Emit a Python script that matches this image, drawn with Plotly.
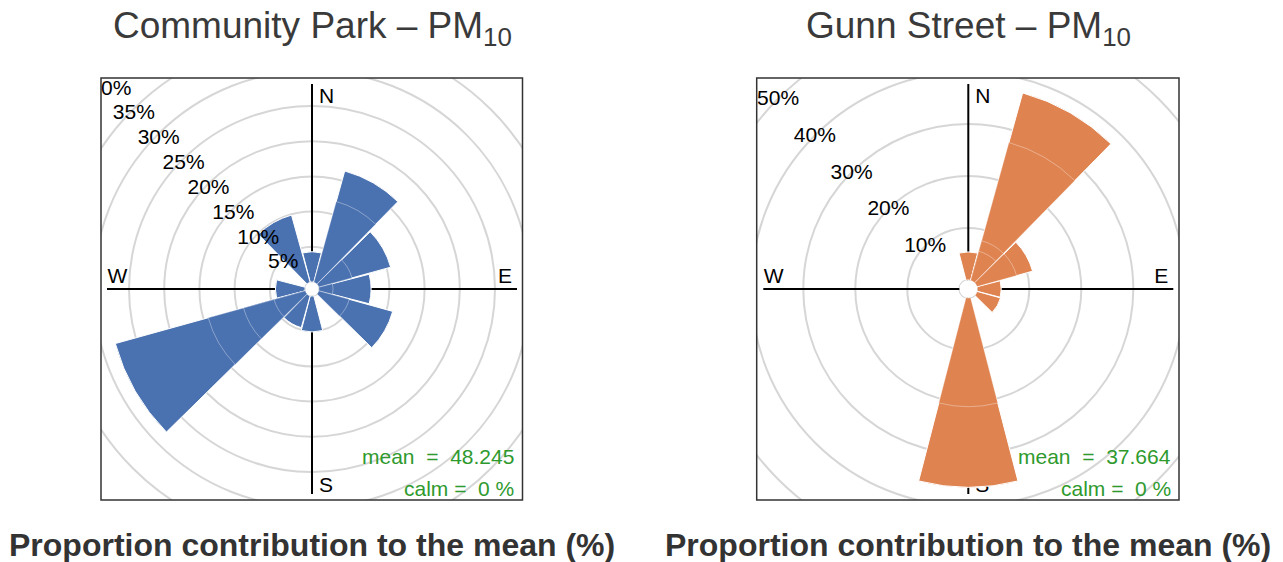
import math
import plotly.graph_objects as go

FIG_W, FIG_H = 1283, 562

# ---------------- data ----------------
directions = [0, 30, 60, 90, 120, 150, 180, 210, 240, 270, 300, 330]
compass_text = ["N", "E", "S", "W"]

# Community Park - proportion contribution to the mean (%) per 30-degree sector
cp_title = "Community Park – PM<sub>10</sub>"
cp_total = [4.3, 16.4, 10.6, 7.4, 10.9, 0.0, 5.1, 4.7, 28.0, 4.2, 0.0, 9.9]
# cumulative concentration-band boundaries inside each wedge
cp_band3 = [None, None, None, None, None, None, None, None, 14.3, None, None, None]
cp_band2 = [None, 11.9, None, None, None, None, None, None, 9.1, None, None, None]
cp_band1 = [None, None, 4.9, 2.0, 4.5, None, None, None, 4.6, None, None, None]
cp_ticks = [5, 10, 15, 20, 25, 30, 35]
cp_clipped_tick = "0%"   # the 40% label, cut by the panel border
cp_mean = "48.245"
cp_calm = "0"

# Gunn Street
gs_title = "Gunn Street – PM<sub>10</sub>"
gs_total = [5.4, 37.4, 11.1, 4.6, 4.7, 0.0, 36.4, 0.0, 0.0, 0.0, 0.0, 0.0]
gs_band3 = [None, 27.5, None, None, None, None, None, None, None, None, None, None]
gs_band2 = [None, 7.9, None, None, None, None, 20.9, None, None, None, None, None]
gs_band1 = [None, 5.8, 7.9, None, None, None, None, None, None, None, None, None]
gs_ticks = [10, 20, 30, 40, 50]
gs_mean = "37.664"
gs_calm = "0"

xlabel = "Proportion contribution to the mean (%)"

# ---------------- style / layout ----------------
FONT = "Liberation Sans, Arial, Helvetica, sans-serif"
R = 273.0  # polar radius in px

panels = [
    dict(title=cp_title, total=cp_total, bands=[cp_band3, cp_band2, cp_band1],
         ticks=cp_ticks, mean=cp_mean, calm=cp_calm, color="#4A71B0",
         cx=312.0, cy=289.0, off=7.0, k=7.04, nudge=(1.0, 4.0),
         box=(101.0, 78.0, 522.5, 500.0), ids=("polar", "polar2")),
    dict(title=gs_title, total=gs_total, bands=[gs_band3, gs_band2, gs_band1],
         ticks=gs_ticks, mean=gs_mean, calm=gs_calm, color="#DF8350",
         cx=968.3, cy=289.0, off=9.0, k=5.2, nudge=(0.0, 1.0),
         box=(756.7, 78.0, 1179.0, 500.0), ids=("polar3", "polar4")),
]

AXIS_PX = 205.0
LAB_FS = 21
TICK_FS = 21
# compass labels: (x offset px, y offset px (down), textposition)
compass_pos = [
    (7.0, -186.0 - 0.75 * LAB_FS, "bottom right"),
    (200.0, -6.5 + 0.25 * LAB_FS, "top left"),
    (7.0, 203.0 + 0.25 * LAB_FS, "top right"),
    (-204.5, -6.5 + 0.25 * LAB_FS, "top right"),
]

def px2polar(dx, dy_down, off, k):
    rpx = math.hypot(dx, dy_down)
    theta = math.degrees(math.atan2(dx, -dy_down)) % 360
    return (rpx - off) / k, theta

fig = go.Figure()
layout_polars = {}
shapes = []
annotations = []

for p in panels:
    off, k, cx, cy = p["off"], p["k"], p["cx"], p["cy"]
    rmax = (R - off) / k
    hole = off / R
    dom = dict(x=[(cx - R) / FIG_W, (cx + R) / FIG_W],
               y=[max(0.0, 1 - (cy + R) / FIG_H), min(1.0, 1 - (cy - R) / FIG_H)])
    base_ang = dict(rotation=90, direction="clockwise", showgrid=False,
                    showline=False, showticklabels=False, ticks="")
    bottom_id, top_id = p["ids"]
    layout_polars[bottom_id] = dict(
        domain=dom, hole=hole, bgcolor="white",
        radialaxis=dict(range=[0, rmax], tickvals=[0] + p["ticks"], showticklabels=False,
                        ticks="", showline=False, showgrid=True,
                        gridcolor="#d6d6d6", gridwidth=1.5),
        angularaxis=base_ang)
    layout_polars[top_id] = dict(
        domain=dom, hole=hole, bgcolor="rgba(0,0,0,0)", barmode="overlay",
        radialaxis=dict(range=[0, rmax], showticklabels=False, ticks="",
                        showline=False, showgrid=False),
        angularaxis=base_ang)

    # calm circle
    fig.add_trace(go.Scatterpolar(
        r=[0] * 73, theta=list(range(0, 361, 5)), mode="lines",
        line=dict(color="#cfcfcf", width=1.5), subplot=bottom_id,
        hoverinfo="skip", showlegend=False))
    # crosshair (axis lines)
    L = (AXIS_PX - off) / k
    fig.add_trace(go.Scatterpolar(
        r=[L, L, None, L, L], theta=[0, 180, None, 90, 270], mode="lines",
        line=dict(color="black", width=2), subplot=bottom_id,
        hoverinfo="skip", showlegend=False))
    # compass letters (under the wedges)
    cr, ct, cpn = [], [], []
    for (dx, dy, tp) in compass_pos:
        rr, tt = px2polar(dx, dy, off, k)
        cr.append(rr); ct.append(tt); cpn.append(tp)
    fig.add_trace(go.Scatterpolar(
        r=cr, theta=ct, mode="text", text=compass_text, textposition=cpn,
        textfont=dict(family=FONT, size=LAB_FS, color="black"), cliponaxis=False,
        subplot=bottom_id, hoverinfo="skip", showlegend=False))

    # wedges: full totals then nested band boundaries
    levels = [p["total"]] + p["bands"]
    for li, vals in enumerate(levels):
        rv = [v if (v is not None and v > 0) else None for v in vals]
        if li == 0:
            line = dict(color="white", width=1.0)
        else:
            line = dict(color="rgba(255,255,255,0.45)", width=0.8)
        fig.add_trace(go.Barpolar(
            r=rv, theta=directions, width=[29] * len(directions),
            marker=dict(color=p["color"], line=line), subplot=top_id,
            hoverinfo="skip", showlegend=False))

    # percent labels along NW direction
    nx, ny = p["nudge"]
    tr, tt, tx = [], [], []
    for v in p["ticks"]:
        rpx = off + v * k
        dx = -rpx * math.sqrt(0.5) + nx
        dy = -rpx * math.sqrt(0.5) + ny
        rr, th = px2polar(dx, dy, off, k)
        tr.append(rr); tt.append(th); tx.append(f"{v}%")
    fig.add_trace(go.Scatterpolar(
        r=tr, theta=tt, mode="text", text=tx, textposition="middle center",
        textfont=dict(family=FONT, size=TICK_FS, color="black"), cliponaxis=False,
        subplot=top_id, hoverinfo="skip", showlegend=False))

    x0, y0, x1, y1 = p["box"]
    annotations.append(dict(text=p["title"], x=cx / FIG_W, y=1 - 28 / FIG_H,
                            xref="paper", yref="paper", xanchor="center", yanchor="middle",
                            showarrow=False, font=dict(family=FONT, size=37, color="#3a3a3a")))
    annotations.append(dict(text="<b>" + xlabel + "</b>", x=cx / FIG_W, y=1 - 545 / FIG_H,
                            xref="paper", yref="paper", xanchor="center", yanchor="middle",
                            showarrow=False, font=dict(family=FONT, size=32, color="#333333")))
    annotations.append(dict(text="mean\u00a0 =\u00a0 " + p["mean"], x=(x1 - 6.5) / FIG_W,
                            y=1 - 456 / FIG_H, xref="paper", yref="paper",
                            xanchor="right", yanchor="middle", showarrow=False,
                            font=dict(family=FONT, size=21, color="#2E9A2E")))
    annotations.append(dict(text="calm =\u00a0 " + p["calm"] + " %", x=(x1 - 6.5) / FIG_W,
                            y=1 - 488 / FIG_H, xref="paper", yref="paper",
                            xanchor="right", yanchor="middle", showarrow=False,
                            font=dict(family=FONT, size=21, color="#2E9A2E")))

# clipped outermost label of the left panel
annotations.append(dict(text=cp_clipped_tick, x=99.0 / FIG_W, y=1 - 88 / FIG_H,
                        xref="paper", yref="paper", xanchor="left", yanchor="middle",
                        showarrow=False, font=dict(family=FONT, size=TICK_FS, color="black")))

# white masks outside the panel boxes
b0 = panels[0]["box"]; b1 = panels[1]["box"]
mask_rects = [
    (0, 0, FIG_W, b0[1]),
    (0, b0[3], FIG_W, FIG_H),
    (0, 0, b0[0], FIG_H),
    (b0[2], 0, b1[0], FIG_H),
    (b1[2], 0, FIG_W, FIG_H),
]
for (ax0, ay0, ax1, ay1) in mask_rects:
    shapes.append(dict(type="rect", xref="paper", yref="paper", layer="above",
                       x0=ax0 / FIG_W, x1=ax1 / FIG_W, y0=1 - ay1 / FIG_H, y1=1 - ay0 / FIG_H,
                       fillcolor="white", line=dict(width=0)))
for p in panels:
    x0, y0, x1, y1 = p["box"]
    shapes.append(dict(type="rect", xref="paper", yref="paper", layer="above",
                       x0=x0 / FIG_W, x1=x1 / FIG_W, y0=1 - y1 / FIG_H, y1=1 - y0 / FIG_H,
                       fillcolor="rgba(0,0,0,0)", line=dict(color="#333333", width=1.5)))

fig.update_layout(
    width=FIG_W, height=FIG_H, autosize=False,
    margin=dict(l=0, r=0, t=0, b=0, pad=0),
    paper_bgcolor="white", plot_bgcolor="white",
    showlegend=False, shapes=shapes, annotations=annotations,
    font=dict(family=FONT),
    **layout_polars,
)

fig.write_html("out.html", config={"displayModeBar": False},
               post_script="document.body.style.margin='0px';document.body.style.overflow='hidden';")
